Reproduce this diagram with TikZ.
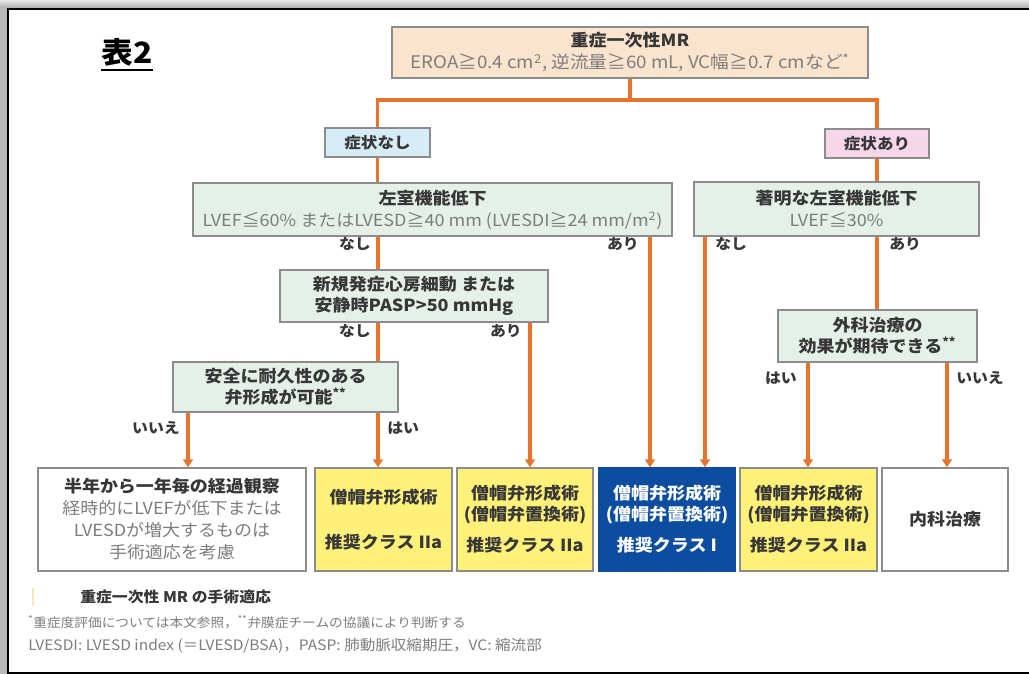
\documentclass[tikz,border=0pt]{standalone}
\usepackage{fontspec}
\setmainfont{Noto Sans CJK JP}[FakeStretch=1.08]
\usetikzlibrary{arrows.meta}
\definecolor{orangeln}{RGB}{229,116,44}
\definecolor{boxln}{RGB}{140,140,140}
\definecolor{peach}{RGB}{251,228,206}
\definecolor{skyb}{RGB}{214,237,248}
\definecolor{pinkb}{RGB}{246,215,234}
\definecolor{mint}{RGB}{228,240,232}
\definecolor{yel}{RGB}{253,241,122}
\definecolor{navy}{RGB}{12,77,160}
\definecolor{dk}{RGB}{55,55,55}
\definecolor{lt}{RGB}{125,125,125}
\newcommand\szA{\fontsize{12.5}{15.5}\selectfont}
\newcommand\szS{\fontsize{11.5}{14}\selectfont}
\newcommand\szL{\fontsize{11}{13}\selectfont}
\newcommand\szF{\fontsize{9.5}{12}\selectfont}
\newcommand\gr[1]{{\mdseries\color{lt}#1}}
\begin{document}
\begin{tikzpicture}[x=0.75pt,y=-0.75pt,
  sz/.style 2 args={minimum width=#1*0.75pt, minimum height=#2*0.75pt},
  bx/.style={draw=boxln, line width=1.1pt, inner sep=0pt, align=center, text=dk, font=\szA\bfseries},
  conn/.style={draw=orangeln, line width=2.3pt},
  arr/.style={conn, -{Triangle[width=7.5pt,length=6pt]}},
  lab/.style={font=\szL\bfseries, text=dk, inner sep=0pt}
]
\useasboundingbox (0,0) rectangle (1029,674);
% frame
\fill[gray!55] (0,0) rectangle (1029,674);
\shade[top color=gray!20, bottom color=gray!65] (0,0) rectangle (1029,8);
\fill[white] (8,9) rectangle (1029,673);
\draw[black, line width=1.6pt] (1029,673) -- (8,673) -- (8,9) -- (1029,9);

% title
\node[font=\fontsize{22}{24}\selectfont\bfseries, text=black, inner sep=0pt] (title) at (127,52) {表2};
\draw[black, line width=1.2pt] (title.south west) ++(0,4) coordinate (ul1) -- (ul1 -| title.south east);

% boxes
\node[bx, fill=peach, sz={476}{51}] (top) at (630,52.5) {重症一次性MR\\[1pt]{\fontsize{13}{15.5}\selectfont\gr{EROA≧0.4 cm\textsuperscript{2}, 逆流量≧60 mL, VC幅≧0.7 cmなど\textsuperscript{*}}}};
\node[bx, fill=skyb, sz={105}{29}, font=\szS\bfseries] (nashi) at (377.5,142.5) {症状なし};
\node[bx, fill=pinkb, sz={104}{29}, font=\szS\bfseries] (ari) at (877,143.5) {症状あり};
\node[bx, fill=mint, sz={479}{53}] (lv) at (432.5,209.5) {左室機能低下\\[1pt]\gr{LVEF≦60\% またはLVESD≧40 mm (LVESDI≧24 mm/m\textsuperscript{2})}};
\node[bx, fill=mint, sz={285}{54}] (sig) at (836.5,209) {著明な左室機能低下\\[1pt]\gr{LVEF≦30\%}};
\node[bx, fill=mint, sz={268}{52}] (af) at (414,296) {新規発症心房細動 または\\安静時PASP>50 mmHg};
\node[bx, fill=mint, sz={225}{50}] (safe) at (285.5,387) {安全に耐久性のある\\弁形成が可能\textsuperscript{**}};
\node[bx, fill=mint, sz={199}{52}] (surg) at (877.5,336) {外科治療の\\効果が期待できる\textsuperscript{**}};

\node[bx, fill=white, sz={268}{103}] (b1) at (172,519.5) {半年から一年毎の経過観察\\[1pt]\gr{経時的にLVEFが低下または}\\[1pt]\gr{LVESDが増大するものは}\\[1pt]\gr{手術適応を考慮}};
\node[bx, fill=yel, sz={137}{103}] (b2) at (383.5,519.5) {僧帽弁形成術\\[18pt]推奨クラス IIa};
\node[bx, fill=yel, sz={136}{103}] (b3) at (525,519.5) {僧帽弁形成術\\(僧帽弁置換術)\\[8pt]推奨クラス IIa};
\node[bx, fill=navy, draw=navy, text=white, sz={136}{103}] (b4) at (667,519.5) {僧帽弁形成術\\(僧帽弁置換術)\\[8pt]推奨クラス I};
\node[bx, fill=yel, sz={137}{103}] (b5) at (808.5,519.5) {僧帽弁形成術\\(僧帽弁置換術)\\[8pt]推奨クラス IIa};
\node[bx, fill=white, sz={126}{103}] (b6) at (945,519.5) {内科治療};

% connector targets
\coordinate (j) at (630,100);
\coordinate (t1) at (188,466);
\coordinate (t2) at (378,466);
\coordinate (t3) at (530,466);
\coordinate (t4a) at (650,466);
\coordinate (t4b) at (705,466);
\coordinate (t5) at (808,466);
\coordinate (t6) at (947,466);

\draw[conn] (top.south) -- (j);
\draw[conn] (nashi.north) |- (j) -| (ari.north);
\draw[conn] (nashi.south) -- (lv.north -| nashi.south);
\draw[conn] (ari.south) -- (sig.north -| ari.south);
\draw[conn] (lv.south -| t2) -- (af.north -| t2);
\draw[conn] (af.south -| t2) -- (safe.north -| t2);
\draw[arr] (safe.south -| t2) -- (b2.north -| t2);
\draw[arr] (safe.south -| t1) -- (b1.north -| t1);
\draw[arr] (af.south -| t3) -- (b3.north -| t3);
\draw[arr] (lv.south -| t4a) -- (b4.north -| t4a);
\draw[arr] (sig.south -| t4b) -- (b4.north -| t4b);
\draw[conn] (sig.south -| ari.south) -- (surg.north -| ari.south);
\draw[arr] (surg.south -| t5) -- (b5.north -| t5);
\draw[arr] (surg.south -| t6) -- (b6.north -| t6);

% labels
\node[lab, anchor=east] (l1) at (371,244) {なし};
\node[lab, anchor=east] (l2) at (639,244) {あり};
\node[lab, anchor=west] (l3) at (715,244) {なし};
\node[lab, anchor=west] (l4) at (889,244) {あり};
\node[lab, anchor=east] (l5) at (371,331) {なし};
\node[lab, anchor=east] (l6) at (522,331) {あり};
\node[lab, anchor=east] (l7) at (180,428) {いいえ};
\node[lab, anchor=west] (l8) at (387,428) {はい};
\node[lab, anchor=east] (l9) at (797,378) {はい};
\node[lab, anchor=west] (l10) at (956,378) {いいえ};

% footer
\draw[color={rgb,255:red,240;green,232;blue,190}, line width=0.8pt] (33,588) -- (33,606);
\node[font=\fontsize{11}{13}\selectfont\bfseries, text=dk, anchor=west, inner sep=0pt] (f1) at (80,597) {重症一次性 MR の手術適応};
\node[font=\szF, text=lt, anchor=west, inner sep=0pt] (f2) at (28,622) {\textsuperscript{*}重症度評価については本文参照，\textsuperscript{**}弁膜症チームの協議により判断する};
\node[font=\fontsize{10.8}{12}\selectfont, text=lt, anchor=west, inner sep=0pt] (f3) at (28,646) {LVESDI: LVESD index (＝LVESD/BSA)，PASP: 肺動脈収縮期圧，VC: 縮流部};
\end{tikzpicture}
\end{document}
